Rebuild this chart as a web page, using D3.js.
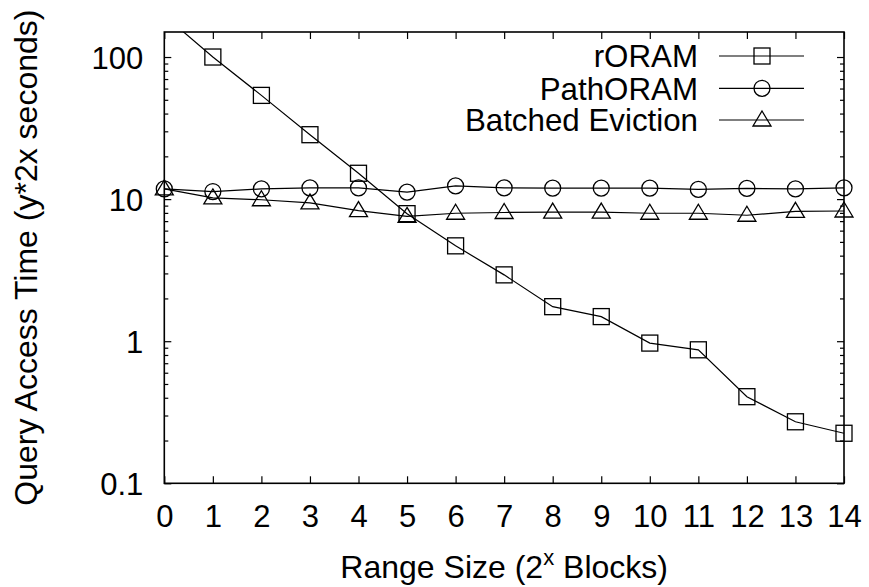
<!DOCTYPE html>
<html>
<head>
<meta charset="utf-8">
<script src="https://cdn.jsdelivr.net/npm/d3@7"></script>
<style>
  html, body { margin: 0; padding: 0; background: #fff; }
  svg text { font-family: "Liberation Sans", Arial, Helvetica, sans-serif; fill: #000; }
</style>
</head>
<body>
<svg id="chart" width="869" height="587"></svg>
<script>
// ---- data ----
const rangeSizes = [0, 1, 2, 3, 4, 5, 6, 7, 8, 9, 10, 11, 12, 13, 14];
const rORAM = [196, 100, 53.7, 28.4, 15.2, 7.9, 4.69, 2.93, 1.75, 1.49, 0.97, 0.87, 0.407, 0.271, 0.225];
const pathORAM = [11.8, 11.3, 11.8, 12.0, 12.0, 11.2, 12.4, 12.0, 11.95, 11.95, 11.95, 11.7, 11.9, 11.8, 12.0];
const batchedEviction = [11.8, 10.2, 9.9, 9.4, 8.3, 7.55, 7.95, 8.05, 8.1, 8.1, 7.95, 7.95, 7.7, 8.2, 8.25];
const seriesNames = ["rORAM", "PathORAM", "Batched Eviction"];
const seriesMarkers = ["square", "circle", "triangle"];
const yTickValues = [0.1, 1, 10, 100];
const yTickLabels = ["0.1", "1", "10", "100"];
const yDomain = [0.1, 150];

(function () {
// ---- layout ----
const svg = d3.select("#chart");
const pL = 164.3, pR = 844, pT = 32, pB = 483.3;
const FS = 31, FL = 32, FG = 31.3;

const x = d3.scaleLinear().domain([0, 14]).range([pL, pR]);
const y = d3.scaleLog().domain(yDomain).range([pB, pT]);

svg.append("defs").append("clipPath").attr("id", "clip")
  .append("rect").attr("x", pL).attr("y", pT).attr("width", pR - pL).attr("height", pB - pT);

// minor ticks values
const minorVals = [];
for (let d = -1; d <= 2; d++) {
  for (let m = 2; m <= 9; m++) {
    const v = m * Math.pow(10, d);
    if (v > yDomain[0] && v < yDomain[1]) minorVals.push(v);
  }
}

const bottomAxis = d3.axisBottom(x).tickValues(rangeSizes).tickSize(-7).tickFormat(d => d).tickPadding(22);
const topAxis = d3.axisTop(x).tickValues(rangeSizes).tickSize(-7).tickFormat("");
const leftAxis = d3.axisLeft(y).tickValues(yTickValues).tickSize(-7).tickFormat((d, i) => yTickLabels[i]).tickPadding(21);
const rightAxis = d3.axisRight(y).tickValues(yTickValues).tickSize(-7).tickFormat("");
const leftMinor = d3.axisLeft(y).tickValues(minorVals).tickSize(-4).tickFormat("");
const rightMinor = d3.axisRight(y).tickValues(minorVals).tickSize(-4).tickFormat("");

function style(g) {
  g.select(".domain").remove();
  g.selectAll(".tick line").attr("stroke", "#000").attr("stroke-width", 1.2);
  g.selectAll(".tick text").attr("font-size", FS).attr("font-family", '"Liberation Sans", Arial, sans-serif');
}

svg.append("g").attr("transform", `translate(0,${pB})`).call(bottomAxis).call(style);
svg.append("g").attr("transform", `translate(0,${pT})`).call(topAxis).call(style);
svg.append("g").attr("transform", `translate(${pL},0)`).call(leftAxis).call(style)
  .selectAll(".tick text").attr("dy", "0.36em");
svg.append("g").attr("transform", `translate(${pR},0)`).call(rightAxis).call(style);
svg.append("g").attr("transform", `translate(${pL},0)`).call(leftMinor).call(style);
svg.append("g").attr("transform", `translate(${pR},0)`).call(rightMinor).call(style);

// frame
svg.append("rect").attr("x", pL).attr("y", pT).attr("width", pR - pL).attr("height", pB - pT)
  .attr("fill", "none").attr("stroke", "#000").attr("stroke-width", 1.6);

// axis labels
svg.append("text").attr("x", (pL + pR) / 2).attr("y", 578).attr("text-anchor", "middle")
  .attr("font-size", FL)
  .call(t => {
    t.append("tspan").text("Range Size (2");
    t.append("tspan").attr("dy", -13).attr("font-size", 22).text("x");
    t.append("tspan").attr("dy", 13).text(" Blocks)");
  });
svg.append("text").attr("transform", `translate(37,${(pT + pB) / 2}) rotate(-90)`)
  .attr("text-anchor", "middle").attr("font-size", FL).text("Query Access Time (y*2x seconds)");

// markers
function drawMarker(g, type, cx, cy) {
  let el;
  if (type === "square") {
    el = g.append("rect").attr("x", cx - 8).attr("y", cy - 8).attr("width", 16).attr("height", 16);
  } else if (type === "circle") {
    el = g.append("circle").attr("cx", cx).attr("cy", cy).attr("r", 8);
  } else {
    el = g.append("path").attr("d", `M${cx},${cy - 9}L${cx + 9},${cy + 6}L${cx - 9},${cy + 6}Z`);
  }
  el.attr("fill", "none").attr("stroke", "#000").attr("stroke-width", 1.3);
}

const allSeries = [rORAM, pathORAM, batchedEviction];
const line = d3.line().x((d, i) => x(rangeSizes[i])).y(d => y(d));

allSeries.forEach((vals, si) => {
  svg.append("path").datum(vals).attr("d", line).attr("clip-path", "url(#clip)")
    .attr("fill", "none").attr("stroke", "#000").attr("stroke-width", 1.2);
  const g = svg.append("g");
  vals.forEach((v, i) => {
    if (v >= yDomain[0] && v <= yDomain[1]) drawMarker(g, seriesMarkers[si], x(rangeSizes[i]), y(v));
  });
});

// legend
const legendRows = [56, 88.3, 120];
seriesNames.forEach((name, i) => {
  const ly = legendRows[i];
  svg.append("text").attr("x", 698).attr("y", ly).attr("dy", "0.36em").attr("text-anchor", "end")
    .attr("font-size", FG).text(name);
  svg.append("line").attr("x1", 719).attr("x2", 804).attr("y1", ly).attr("y2", ly)
    .attr("stroke", "#000").attr("stroke-width", 1.2);
  drawMarker(svg.append("g"), seriesMarkers[i], 762, ly);
});
})();
</script>
</body>
</html>
